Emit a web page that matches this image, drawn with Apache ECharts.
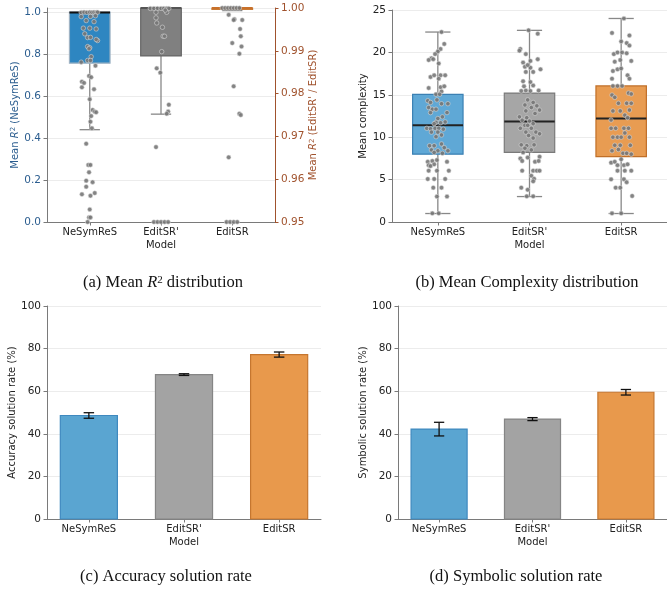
<!DOCTYPE html>
<html><head><meta charset="utf-8">
<script src="https://cdn.jsdelivr.net/npm/echarts@6/dist/echarts.min.js"></script>
<style>html,body{margin:0;padding:0;background:#fff}#c{width:667px;height:590px}</style>
</head><body><div id="c"></div>
<script>
// ---------------- DATA ----------------
const models = ['NeSymReS', "EditSR'", 'EditSR'];
const yTicksR2Left = [0, 0.2, 0.4, 0.6, 0.8, 1.0];
const yTicksR2Right = [0.95, 0.96, 0.97, 0.98, 0.99, 1.00];

// (a) Mean R^2 box stats: [min, Q1, median, Q3, max]
const r2BoxNeSymReS = [0.44, 0.757, 0.999, 1.0, 1.0];
const r2BoxEditSRp  = [0.9752, 0.9888, 1.0, 1.0, 1.0];
const r2BoxEditSR   = [0.9994, 0.9997, 1.0, 1.0, 1.0];

// (a) points: [jitter, value]
const r2PtsNeSymReS = [
 [-0.12,0.999],[-0.08,1.0],[-0.04,0.999],[0,1.0],[0.03,0.999],[0.06,1.0],[0.09,0.999],[0.11,1.0],
 [-0.12,0.979],[0.01,0.98],[0.08,0.983],[-0.05,0.96],[0.06,0.955],[-0.09,0.924],[0,0.924],[0.09,0.92],
 [-0.07,0.897],[-0.03,0.879],[0.01,0.88],[0.11,0.865],[0.09,0.87],[-0.03,0.836],[0,0.831],[-0.01,0.826],
 [0.02,0.788],[-0.03,0.77],[-0.12,0.762],[0.01,0.77],[0.08,0.745],
 [-0.01,0.696],[0.02,0.69],[-0.11,0.669],[-0.08,0.663],[-0.11,0.642],[0.06,0.633],[0,0.585],
 [0.04,0.534],[0.07,0.526],[0.09,0.523],[0.02,0.505],[0.01,0.478],[0.03,0.447],[-0.05,0.373],
 [-0.02,0.272],[0.01,0.272],[-0.01,0.237],[-0.05,0.197],[0.04,0.19],[-0.05,0.168],[-0.11,0.132],
 [0.01,0.125],[0.07,0.138],[0,0.06],[-0.01,0.022],[0.01,0.022],[-0.03,0.0]
];
const r2PtsEditSRp = [
 [-0.15,0.9999],[-0.1,0.9999],[-0.05,0.9999],[0,0.9999],[0.04,0.9999],[0.08,0.9999],[0.11,0.9999],
 [-0.07,0.999],[0.08,0.999],[0.06,0.9995],[-0.07,0.9977],[-0.06,0.9965],[0.02,0.9955],[0.03,0.9934],
 [0.05,0.9934],[0.01,0.9898],[-0.06,0.9859],[-0.01,0.9849],[0.11,0.9774],[0.1,0.9758],[0.08,0.9753],
 [-0.07,0.9675],[-0.1,0.95],[-0.05,0.95],[0,0.95],[0.05,0.95],[0.1,0.95]
];
const r2PtsEditSR = [
 [-0.14,1.0],[-0.1,1.0],[-0.06,1.0],[-0.02,1.0],[0.02,1.0],[0.06,1.0],[0.1,1.0],
 [-0.05,0.9984],[0.03,0.9974],[0.02,0.9972],[0.14,0.9972],[0.11,0.9951],[0,0.9918],[0.12,0.9934],
 [0.13,0.991],[0.1,0.9893],[0.02,0.9817],[0.1,0.9753],[0.12,0.975],[-0.05,0.9651],
 [-0.08,0.95],[-0.03,0.95],[0.02,0.95],[0.07,0.95]
];

// (b) Mean complexity box stats: [min, Q1, median, Q3, max]
const cxBoxNeSymReS = [1.0, 8.0, 11.4, 15.05, 22.4];
const cxBoxEditSRp  = [3.0, 8.2, 11.85, 15.2, 22.6];
const cxBoxEditSR   = [1.0, 7.7, 12.2, 16.05, 24.0];
const yTicksCx = [0, 5, 10, 15, 20, 25];

const cxPtsNeSymReS = [
 [0.04,22.4],[0.07,21.0],[0.03,20.4],[0,20.1],[-0.03,19.8],[-0.07,19.3],[-0.1,19.1],[-0.05,19.2],[0.01,18.7],
 [-0.08,17.1],[-0.04,17.3],[0.03,17.3],[0.08,17.3],[0.01,16.9],[-0.1,15.8],[0.03,15.9],[0.07,16.0],[0.04,15.4],
 [-0.02,15.06],[0.02,15.06],[-0.11,14.3],[-0.08,14.1],[-0.01,14.4],[0.04,13.95],[0.11,13.95],[-0.1,13.5],
 [-0.06,13.3],[-0.02,13.3],[-0.08,12.9],[0.1,12.9],[0.05,12.4],[0,12.2],[0.08,11.8],[-0.02,11.75],[0.03,11.7],
 [-0.04,11.6],[-0.12,11.05],[-0.08,11.0],[-0.03,11.05],[0.01,11.05],[0.06,10.95],[-0.07,10.6],[0,10.6],
 [0.04,10.26],[-0.02,10.06],[-0.09,9.0],[-0.04,9.0],[0.04,9.2],[0.07,8.77],[-0.07,8.5],[0,8.4],[0.11,8.4],
 [0.05,8.1],[-0.04,8.2],[-0.11,7.1],[-0.06,7.2],[-0.01,7.3],[0.1,7.1],[-0.1,6.7],[-0.04,6.8],[-0.08,6.6],
 [-0.1,6.05],[-0.01,6.05],[0.12,6.05],[-0.11,5.07],[-0.04,5.07],[0.08,5.07],[-0.05,4.05],[0.04,4.05],
 [-0.01,3.0],[0.1,3.0],[-0.06,1.02],[0.01,1.02]
];
const cxPtsEditSRp = [
 [-0.01,22.6],[0.09,22.2],[-0.1,20.4],[-0.11,20.2],[-0.04,19.8],[-0.07,18.8],[0.01,19.0],[0.09,19.2],
 [-0.05,18.3],[0.01,18.2],[-0.02,18.5],[0.12,18.0],[-0.04,17.7],[0.04,17.7],[-0.07,16.6],[0.01,16.5],
 [-0.06,16.0],[0.04,16.1],[-0.09,15.45],[-0.04,15.5],[0.01,15.45],[0.1,15.5],[-0.02,14.4],[0.04,14.1],
 [-0.05,13.8],[0.08,13.7],[0.02,13.5],[0.11,13.2],[-0.04,13.1],[0.06,12.8],[-0.11,12.4],[-0.03,12.3],
 [-0.08,12.0],[0,11.9],[0.04,11.6],[-0.05,11.4],[-0.02,11.4],[-0.1,11.05],[0.02,11.05],[-0.04,10.6],
 [0.07,10.6],[0.11,10.4],[-0.01,10.2],[0.04,9.9],[-0.09,9.1],[-0.03,9.0],[0.05,9.1],[-0.05,8.7],
 [0.02,8.5],[-0.07,8.2],[-0.1,7.5],[-0.02,7.6],[0.11,7.7],[-0.08,7.2],[0.06,7.1],[0.1,7.2],
 [-0.08,6.05],[0.04,6.05],[0.08,6.05],[0.11,6.05],[0.02,5.45],[0.05,5.1],[0.04,4.8],[-0.09,4.05],
 [-0.02,3.8],[-0.03,3.03],[0.04,3.03]
];
const cxPtsEditSR = [
 [0.03,24.0],[-0.1,22.3],[0.09,22.0],[0,21.3],[0.06,21.1],[0.09,20.8],[-0.08,19.8],[-0.04,20.0],[0.01,20.0],
 [0.06,19.9],[-0.01,19.1],[-0.07,18.9],[0.11,19.0],[-0.04,18.0],[-0.09,17.8],[0,18.1],[0.07,17.3],[0.09,16.9],
 [-0.1,16.9],[-0.09,16.04],[-0.04,16.04],[0.01,16.04],[-0.1,14.97],[-0.07,14.7],[0.08,15.2],[0.11,15.1],
 [-0.03,14.0],[0.06,14.0],[0.11,14.0],[-0.09,13.1],[-0.01,13.1],[0.09,13.2],[0.04,12.6],[-0.11,12.03],
 [0.07,12.3],[-0.11,11.05],[-0.06,11.05],[0.03,11.05],[0.08,11.05],[0.04,10.5],[-0.09,10.0],[-0.04,10.0],
 [0,10.0],[0.09,10.0],[-0.07,9.05],[-0.01,9.05],[0.1,9.05],[-0.03,8.55],[-0.1,8.4],[0.02,8.1],[0.06,8.1],
 [0.11,8.0],[-0.11,7.0],[-0.07,7.1],[0,7.4],[-0.04,6.7],[0.03,6.7],[0.07,6.8],[-0.04,6.05],[0.04,6.05],
 [0.11,6.05],[-0.11,5.03],[0.03,5.05],[0.06,4.7],[-0.06,4.05],[-0.01,4.05],[0.12,3.07],[-0.1,1.02],[0,1.02]
];

// (c) accuracy solution rate (%) and error
const accRate = [48.6, 67.8, 77.2];
const accErr  = [1.3, 0.4, 1.2];
// (d) symbolic solution rate (%) and error
const symRate = [42.2, 46.9, 59.5];
const symErr  = [3.2, 0.7, 1.3];
const yTicksRate = [0, 20, 40, 60, 80, 100];

// ---------------- STYLE ----------------
const FONT = 'DejaVu Sans';
const axisGray = '#7a7a7a';
const leftBlue = '#2b5d8f';
const rightBrown = '#a0522d';

const boxFillA = ['#2e86c1', '#808080', '#e8994d'];
const boxEdgeA = ['#9fb3c4', '#666666', '#c87a35'];
const boxMedA  = ['#111111', '#555555', '#c8702a'];
const boxFillB = ['#5fa8d6', '#a6a6a6', '#e89c52'];
const boxEdgeB = ['#3b80b3', '#7a7a7a', '#c06f28'];
const boxMedB  = ['#222222', '#222222', '#222222'];
const barFill  = ['#5aa5d1', '#a3a3a3', '#e8994c'];
const barEdge  = ['#3f89bf', '#858585', '#c5762f'];

function boxRender(fills, edges, meds, halfW) {
  return function (params, api) {
    const x = api.value(0), idx = Math.round(x);
    const lo = api.value(1), q1 = api.value(2), md = api.value(3), q3 = api.value(4), hi = api.value(5);
    const a = api.coord([x - halfW, q3]), b = api.coord([x + halfW, q1]);
    const m1 = api.coord([x - halfW, md]), m2 = api.coord([x + halfW, md]);
    const pHi = api.coord([x, hi]), pQ3 = api.coord([x, q3]), pQ1 = api.coord([x, q1]), pLo = api.coord([x, lo]);
    const cL = api.coord([x - halfW / 2, q1])[0], cR = api.coord([x + halfW / 2, q1])[0];
    const w = { stroke: '#888', lineWidth: 1.3 };
    return { type: 'group', children: [
      { type: 'line', shape: { x1: pHi[0], y1: pHi[1], x2: pQ3[0], y2: pQ3[1] }, style: w },
      { type: 'line', shape: { x1: pQ1[0], y1: pQ1[1], x2: pLo[0], y2: pLo[1] }, style: w },
      { type: 'line', shape: { x1: cL, y1: pHi[1], x2: cR, y2: pHi[1] }, style: w },
      { type: 'line', shape: { x1: cL, y1: pLo[1], x2: cR, y2: pLo[1] }, style: w },
      { type: 'rect', shape: { x: a[0], y: a[1], width: b[0] - a[0], height: Math.max(b[1] - a[1], 1.5) },
        style: { fill: fills[idx], stroke: edges[idx], lineWidth: 1.2 } },
      { type: 'line', shape: { x1: m1[0], y1: m1[1], x2: m2[0], y2: m2[1] }, style: { stroke: meds[idx], lineWidth: 2 } }
    ] };
  };
}
function barRender(halfW) {
  return function (params, api) {
    const x = api.value(0), idx = Math.round(x), v = api.value(1);
    const a = api.coord([x - halfW, v]), b = api.coord([x + halfW, 0]);
    return { type: 'rect', shape: { x: a[0], y: a[1], width: b[0] - a[0], height: b[1] - a[1] },
      style: { fill: barFill[idx], stroke: barEdge[idx], lineWidth: 1.2 } };
  };
}
function errRender(capHalf) {
  return function (params, api) {
    const x = api.value(0), v = api.value(1), e = api.value(2);
    const t = api.coord([x, v + e]), b = api.coord([x, v - e]);
    const l = api.coord([x - capHalf, v])[0], r = api.coord([x + capHalf, v])[0];
    const s = { stroke: '#111', lineWidth: 1.3 };
    return { type: 'group', children: [
      { type: 'line', shape: { x1: t[0], y1: t[1], x2: b[0], y2: b[1] }, style: s },
      { type: 'line', shape: { x1: l, y1: t[1], x2: r, y2: t[1] }, style: s },
      { type: 'line', shape: { x1: l, y1: b[1], x2: r, y2: b[1] }, style: s }
    ] };
  };
}

function xAx(gi, min, max) {
  return {
    type: 'value', gridIndex: gi, min: min, max: max,
    axisLine: { show: true, onZero: false, lineStyle: { color: axisGray, width: 1 } },
    axisTick: { show: true, customValues: [0, 1, 2], length: 3.5, lineStyle: { color: axisGray } },
    axisLabel: { customValues: [0, 1, 2], formatter: v => models[Math.round(v)] || '',
      color: '#222', fontSize: 10, fontFamily: FONT, margin: 5 },
    splitLine: { show: false },
    name: 'Model', nameLocation: 'middle', nameGap: 18,
    nameTextStyle: { color: '#222', fontSize: 10, fontFamily: FONT }
  };
}
function yAx(gi, min, max, interval, name, nameGap, fmt, color, opts) {
  const o = {
    type: 'value', gridIndex: gi, min: min, max: max, interval: interval,
    axisLine: { show: true, onZero: false, lineStyle: { color: (opts && opts.lineColor) || axisGray, width: 1 } },
    axisTick: { show: true, length: 3.5, lineStyle: { color: (opts && opts.lineColor) || axisGray } },
    axisLabel: { color: color, fontSize: 10.5, fontFamily: FONT, margin: 6, formatter: fmt },
    splitLine: { show: !(opts && opts.noSplit), lineStyle: { color: '#ececec', width: 1 } },
    name: name, nameLocation: 'middle', nameRotate: 90, nameGap: nameGap,
    nameTextStyle: { color: color, fontSize: 10, fontFamily: FONT,
      rich: { i: { fontStyle: 'italic', fontSize: 10, fontFamily: FONT, color: color },
              s: { fontSize: 7, verticalAlign: 'top', fontFamily: FONT, color: color } } }
  };
  if (opts && opts.position) o.position = opts.position;
  return o;
}

const withX = (pts, i) => pts.map(p => [i + p[0], p[1]]);
const ptStyle = { color: '#777777', borderColor: '#dddddd', borderWidth: 0.6, opacity: 0.9 };

const option = {
  animation: false,
  backgroundColor: '#fff',
  grid: [
    { left: 47, top: 8, width: 228, height: 214 },
    { left: 392, top: 10, width: 279, height: 212 },
    { left: 47, top: 306, width: 274, height: 213 },
    { left: 398, top: 306, width: 273, height: 213 }
  ],
  xAxis: [ xAx(0, -0.6, 2.6), xAx(1, -0.5, 2.5), xAx(2, -0.44, 2.44), xAx(3, -0.44, 2.44) ],
  yAxis: [
    yAx(0, yTicksR2Left[0], 1.02, 0.2, 'Mean {i|R}{s|2} (NeSymReS)', 27, v => v.toFixed(1), leftBlue),
    yAx(0, yTicksR2Right[0], yTicksR2Right[yTicksR2Right.length - 1], 0.01, 'Mean {i|R}{s|2} (EditSR\' / EditSR)', 33,
        v => v.toFixed(2), rightBrown, { position: 'right', lineColor: rightBrown, noSplit: true }),
    yAx(1, yTicksCx[0], yTicksCx[yTicksCx.length - 1], 5, 'Mean complexity', 22, v => String(v), '#222'),
    yAx(2, yTicksRate[0], yTicksRate[yTicksRate.length - 1], 20, 'Accuracy solution rate (%)', 28, v => String(v), '#222'),
    yAx(3, yTicksRate[0], yTicksRate[yTicksRate.length - 1], 20, 'Symbolic solution rate (%)', 28, v => String(v), '#222')
  ],
  series: [
    // (a)
    { type: 'custom', xAxisIndex: 0, yAxisIndex: 0, z: 2, silent: true,
      renderItem: boxRender(boxFillA, boxEdgeA, boxMedA, 0.285),
      encode: { x: 0, y: [1, 2, 3, 4, 5] }, data: [[0].concat(r2BoxNeSymReS)] },
    { type: 'custom', xAxisIndex: 0, yAxisIndex: 1, z: 2, silent: true,
      renderItem: boxRender(boxFillA, boxEdgeA, boxMedA, 0.285),
      encode: { x: 0, y: [1, 2, 3, 4, 5] }, data: [[1].concat(r2BoxEditSRp), [2].concat(r2BoxEditSR)] },
    { type: 'scatter', xAxisIndex: 0, yAxisIndex: 0, z: 5, symbolSize: 4.5, itemStyle: ptStyle, silent: true,
      data: withX(r2PtsNeSymReS, 0) },
    { type: 'scatter', xAxisIndex: 0, yAxisIndex: 1, z: 5, symbolSize: 4.5, itemStyle: ptStyle, silent: true,
      data: withX(r2PtsEditSRp, 1).concat(withX(r2PtsEditSR, 2)) },
    // (b)
    { type: 'custom', xAxisIndex: 1, yAxisIndex: 2, z: 2, silent: true,
      renderItem: boxRender(boxFillB, boxEdgeB, boxMedB, 0.275),
      encode: { x: 0, y: [1, 2, 3, 4, 5] },
      data: [[0].concat(cxBoxNeSymReS), [1].concat(cxBoxEditSRp), [2].concat(cxBoxEditSR)] },
    { type: 'scatter', xAxisIndex: 1, yAxisIndex: 2, z: 5, symbolSize: 4.5, itemStyle: ptStyle, silent: true,
      data: withX(cxPtsNeSymReS, 0).concat(withX(cxPtsEditSRp, 1), withX(cxPtsEditSR, 2)) },
    // (c)
    { type: 'custom', xAxisIndex: 2, yAxisIndex: 3, z: 2, silent: true, renderItem: barRender(0.3),
      encode: { x: 0, y: 1 }, data: accRate.map((v, i) => [i, v]) },
    { type: 'custom', xAxisIndex: 2, yAxisIndex: 3, z: 4, silent: true, renderItem: errRender(0.055),
      encode: { x: 0, y: 1 }, data: accRate.map((v, i) => [i, v, accErr[i]]) },
    // (d)
    { type: 'custom', xAxisIndex: 3, yAxisIndex: 4, z: 2, silent: true, renderItem: barRender(0.3),
      encode: { x: 0, y: 1 }, data: symRate.map((v, i) => [i, v]) },
    { type: 'custom', xAxisIndex: 3, yAxisIndex: 4, z: 4, silent: true, renderItem: errRender(0.055),
      encode: { x: 0, y: 1 }, data: symRate.map((v, i) => [i, v, symErr[i]]) }
  ],
  graphic: [
    { type: 'text', x: 163, y: 283, silent: true, style: { text: '(a) Mean {i|R}{s|2} distribution', fill: '#111',
      font: '16.5px "Liberation Serif"', align: 'center', verticalAlign: 'middle',
      rich: { i: { fontStyle: 'italic', fontSize: 16.5, fontFamily: 'Liberation Serif' },
              s: { fontSize: 11, fontFamily: 'Liberation Serif', verticalAlign: 'top' } } } },
    { type: 'text', x: 527, y: 283, silent: true, style: { text: '(b) Mean Complexity distribution', fill: '#111',
      font: '16.5px "Liberation Serif"', align: 'center', verticalAlign: 'middle' } },
    { type: 'text', x: 166, y: 577, silent: true, style: { text: '(c) Accuracy solution rate', fill: '#111',
      font: '16.5px "Liberation Serif"', align: 'center', verticalAlign: 'middle' } },
    { type: 'text', x: 516, y: 577, silent: true, style: { text: '(d) Symbolic solution rate', fill: '#111',
      font: '16.5px "Liberation Serif"', align: 'center', verticalAlign: 'middle' } }
  ]
};
const chart = echarts.init(document.getElementById('c'), null, { renderer: 'canvas' });
chart.setOption(option);
</script></body></html>
